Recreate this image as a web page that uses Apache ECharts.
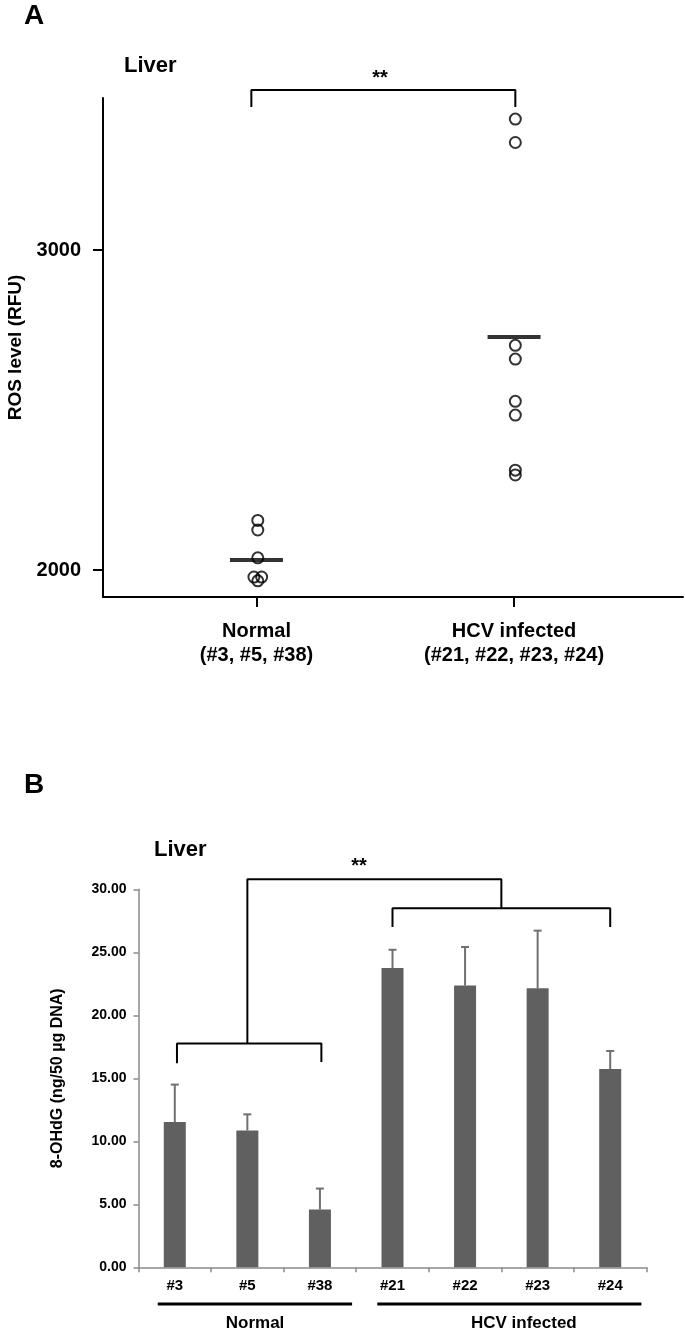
<!DOCTYPE html>
<html><head><meta charset="utf-8">
<script src="https://cdn.jsdelivr.net/npm/echarts@6/dist/echarts.min.js"></script>
<style>html,body{margin:0;padding:0;background:#fff}#c{width:685px;height:1334px}</style>
</head><body><div id="c"></div>
<script>
// ---------- Panel A: ROS level (RFU), liver ----------
const groupsA = ['Normal\n(#3, #5, #38)', 'HCV infected\n(#21, #22, #23, #24)'];
const normalROS = [2155, 2125, 2038, 1978, 1978, 1966];
const normalX   = [1.005, 1.005, 1.005, 0.99, 1.02, 1.005];
const hcvROS    = [3409, 3336, 2702, 2659, 2527, 2484, 2312, 2297];
const hcvX      = [2.005, 2.005, 2.005, 2.005, 2.005, 2.005, 2.005, 2.005];
const meanROS   = [2031, 2728];
const ticksA    = [2000, 3000];
const bracketA  = [[0.98, 3447], [0.98, 3500], [2.005, 3500], [2.005, 3447]];

// ---------- Panel B: 8-OHdG, liver ----------
const samplesB = ['#3', '#5', '#38', '#21', '#22', '#23', '#24'];
const ohdg     = [11.53, 10.85, 4.58, 23.75, 22.36, 22.14, 15.74];
const ohdgErr  = [2.97, 1.29, 1.67, 1.45, 3.06, 4.58, 1.43];
const groupsB  = ['Normal', 'HCV infected'];
const groupSpanB = [[-0.235, 2.443], [2.79, 6.43]];
const groupLabelXB = [1.106, 4.81];
const bracketsB = [
  [[0.03, 16.2], [0.03, 17.77], [2.02, 17.77], [2.02, 16.3]],
  [[1.0, 17.77], [1.0, 30.8], [4.5, 30.8], [4.5, 28.5]],
  [[3.0, 27.0], [3.0, 28.5], [6.0, 28.5], [6.0, 27.0]]
];

const FONT = 'Liberation Sans, Arial, Helvetica, sans-serif';
const chart = echarts.init(document.getElementById('c'));

const lineSeries = (pts, xi, yi, w, extra) => Object.assign({
  type: 'line', xAxisIndex: xi, yAxisIndex: yi, data: pts, symbol: 'none',
  clip: false, silent: true, animation: false,
  lineStyle: { color: '#000', width: w }
}, extra || {});

const series = [
  { type: 'scatter', xAxisIndex: 0, yAxisIndex: 0, animation: false,
    data: normalROS.map((v, i) => [normalX[i], v]), symbol: 'circle', symbolSize: 11,
    itemStyle: { color: 'rgba(255,255,255,0)', borderColor: '#000', borderWidth: 2 } },
  { type: 'scatter', xAxisIndex: 0, yAxisIndex: 0, animation: false,
    data: hcvROS.map((v, i) => [hcvX[i], v]), symbol: 'circle', symbolSize: 11,
    itemStyle: { color: 'rgba(255,255,255,0)', borderColor: '#000', borderWidth: 2 } },
  { type: 'scatter', xAxisIndex: 0, yAxisIndex: 0, animation: false, z: 3,
    data: meanROS.map((v, i) => [i + 1, v]), symbol: 'rect', symbolSize: [53, 4],
    itemStyle: { color: '#000' } },
  lineSeries(bracketA, 0, 0, 2),
  { type: 'bar', xAxisIndex: 1, yAxisIndex: 1, data: ohdg, barWidth: 22, animation: false,
    itemStyle: { color: '#606060' } },
  { type: 'custom', xAxisIndex: 2, yAxisIndex: 1, z: 3, animation: false,
    data: ohdg.map((v, i) => [i, v, ohdgErr[i]]),
    renderItem: (params, api) => {
      const x = api.value(0), v = api.value(1), e = api.value(2);
      const p0 = api.coord([x, v]), p1 = api.coord([x, v + e]);
      const st = { stroke: '#707070', lineWidth: 2 };
      return { type: 'group', children: [
        { type: 'line', shape: { x1: p0[0], y1: p0[1], x2: p1[0], y2: p1[1] }, style: st },
        { type: 'line', shape: { x1: p1[0] - 4, y1: p1[1], x2: p1[0] + 4, y2: p1[1] }, style: st }
      ]};
    } }
];
bracketsB.forEach(b => series.push(lineSeries(b, 2, 1, 2)));
groupSpanB.forEach(s => series.push(lineSeries([[s[0], -2.91], [s[1], -2.91]], 2, 1, 3)));

const option = {
  backgroundColor: '#fff',
  textStyle: { fontFamily: FONT },
  grid: [
    { left: 103, top: 98, width: 580, height: 499, containLabel: false, outerBoundsMode: 'none' },
    { left: 138.5, top: 889.3, width: 508, height: 378, containLabel: false, outerBoundsMode: 'none' }
  ],
  xAxis: [
    { type: 'value', gridIndex: 0, min: 0.404, max: 2.656,
      axisLine: { show: true, onZero: false, lineStyle: { color: '#000', width: 2 } },
      axisTick: { show: true, customValues: [1, 2], length: 10, lineStyle: { color: '#000', width: 2 } },
      axisLabel: { customValues: [1, 2], formatter: v => groupsA[Math.round(v) - 1],
        color: '#000', fontSize: 20, fontWeight: 'bold', lineHeight: 24, margin: 22, fontFamily: FONT },
      splitLine: { show: false } },
    { type: 'category', gridIndex: 1, data: samplesB,
      axisLine: { show: true, onZero: false, lineStyle: { color: '#8a8a8a', width: 1.5 } },
      axisTick: { show: true, length: 5, lineStyle: { color: '#8a8a8a', width: 1.5 } },
      axisLabel: { color: '#000', fontSize: 15, fontWeight: 'bold', margin: 11, fontFamily: FONT } },
    { type: 'value', gridIndex: 1, min: -0.5, max: 6.5, show: false,
      axisLine: { onZero: false } }
  ],
  yAxis: [
    { type: 'value', gridIndex: 0, min: 1915.6, max: 3475,
      name: 'ROS level (RFU)', nameLocation: 'middle', nameGap: 78,
      nameTextStyle: { color: '#000', fontSize: 19, fontWeight: 'bold', fontFamily: FONT },
      axisLine: { show: true, onZero: false, lineStyle: { color: '#000', width: 2 } },
      axisTick: { show: true, customValues: ticksA, length: 10, lineStyle: { color: '#000', width: 2 } },
      axisLabel: { customValues: ticksA, formatter: v => String(v), color: '#000', fontSize: 20,
        fontWeight: 'bold', margin: 22, fontFamily: FONT },
      splitLine: { show: false } },
    { type: 'value', gridIndex: 1, min: 0, max: 30, interval: 5,
      name: '8-OHdG (ng/50 µg DNA)', nameLocation: 'middle', nameGap: 73,
      nameTextStyle: { color: '#000', fontSize: 16, fontWeight: 'bold', fontFamily: FONT },
      axisLine: { show: true, onZero: false, lineStyle: { color: '#8a8a8a', width: 1.5 } },
      axisTick: { show: true, length: 5, lineStyle: { color: '#8a8a8a', width: 1.5 } },
      axisLabel: { formatter: v => v.toFixed(2), color: '#000', fontSize: 14, fontWeight: 'bold', margin: 12, fontFamily: FONT },
      splitLine: { show: false } }
  ],
  series: series
};
chart.setOption(option);

const pB = (x, y) => chart.convertToPixel({ xAxisIndex: 2, yAxisIndex: 1 }, [x, y]);
const pA = (x, y) => chart.convertToPixel({ xAxisIndex: 0, yAxisIndex: 0 }, [x, y]);
const txt = (x, y, s, size, align, weight) => ({
  type: 'text', x: x, y: y, silent: true,
  style: { text: s, fill: '#000', font: (weight || 'bold') + ' ' + size + 'px ' + FONT,
    textAlign: align || 'left', textVerticalAlign: 'middle' }
});
const starA = pA(1.48, 3535);
const starB = pB(2.54, 31.8);
const graphics = [
  txt(24, 16, 'A', 28, 'left'),
  txt(124, 66, 'Liver', 22, 'left'),
  txt(starA[0], starA[1], '**', 20, 'center'),
  txt(24, 785, 'B', 28, 'left'),
  txt(154, 850, 'Liver', 22, 'left'),
  txt(starB[0], starB[1], '**', 20, 'center')
];
groupsB.forEach((g, i) => {
  const p = pB(groupLabelXB[i], -4.45);
  graphics.push(txt(p[0], p[1], g, 17, 'center'));
});
chart.setOption({ graphic: graphics });
</script>
</body></html>
